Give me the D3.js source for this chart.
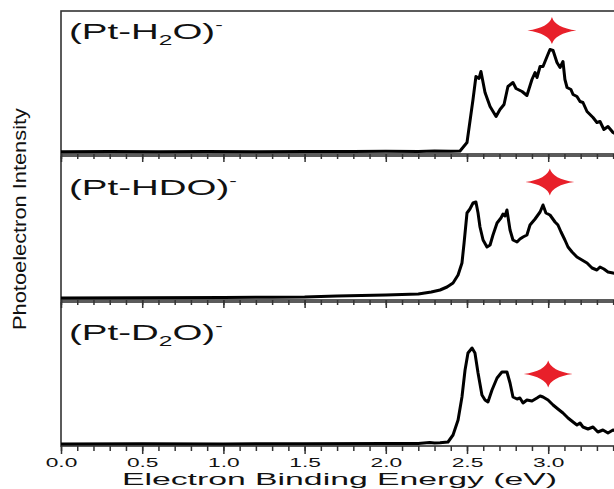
<!DOCTYPE html>
<html>
<head>
<meta charset="utf-8">
<script src="https://cdn.jsdelivr.net/npm/d3@7"></script>
<style>
  body { margin: 0; background: #fff; }
  svg { display: block; font-family: "Liberation Sans", Arial, sans-serif; }
</style>
</head>
<body>
<svg id="viz" width="614" height="489"></svg>
<script>
// spectra: [binding energy (eV), intensity]
let h2o = [
    [0.0, 0.002], [0.3, 0.004], [0.6, 0.003], [0.9, 0.005], [1.2, 0.003], [1.5, 0.006],
    [1.8, 0.004], [2.0, 0.007], [2.2, 0.006], [2.3, 0.009], [2.4, 0.007], [2.457, 0.01],
    [2.50, 0.095], [2.537, 0.525], [2.555, 0.755], [2.574, 0.735], [2.586, 0.805],
    [2.611, 0.595], [2.642, 0.455], [2.679, 0.355], [2.703, 0.425], [2.728, 0.475],
    [2.752, 0.655], [2.783, 0.695], [2.802, 0.635], [2.839, 0.605], [2.869, 0.565],
    [2.900, 0.725], [2.919, 0.795], [2.931, 0.745], [2.950, 0.855], [2.968, 0.855],
    [2.993, 0.955], [3.011, 1.025], [3.030, 1.015], [3.054, 0.895], [3.073, 0.845],
    [3.091, 0.905], [3.103, 0.725], [3.116, 0.645], [3.140, 0.625], [3.153, 0.575],
    [3.177, 0.555], [3.196, 0.505], [3.214, 0.495], [3.239, 0.405], [3.276, 0.345],
    [3.300, 0.295], [3.319, 0.305], [3.343, 0.225], [3.368, 0.255], [3.399, 0.195],
    [3.43, 0.17]
]

let hdo = [
    [0.0, 0.0], [0.5, 0.003], [1.0, 0.005], [1.3, 0.008], [1.5, 0.01], [1.7, 0.02],
    [1.85, 0.025], [2.0, 0.03], [2.1, 0.035], [2.2, 0.04], [2.28, 0.06], [2.334, 0.08],
    [2.377, 0.11], [2.414, 0.15], [2.445, 0.23], [2.469, 0.35], [2.482, 0.55],
    [2.500, 0.85], [2.518, 0.89], [2.537, 0.95], [2.555, 0.96], [2.568, 0.85],
    [2.580, 0.71], [2.599, 0.58], [2.623, 0.51], [2.642, 0.53], [2.660, 0.63],
    [2.685, 0.75], [2.709, 0.80], [2.722, 0.84], [2.734, 0.82], [2.746, 0.88],
    [2.765, 0.68], [2.783, 0.58], [2.808, 0.56], [2.826, 0.59], [2.845, 0.61],
    [2.869, 0.63], [2.888, 0.73], [2.919, 0.79], [2.950, 0.86], [2.968, 0.93],
    [2.986, 0.85], [3.011, 0.83], [3.042, 0.76], [3.060, 0.73], [3.079, 0.66],
    [3.103, 0.58], [3.122, 0.51], [3.147, 0.46], [3.177, 0.41], [3.208, 0.38],
    [3.239, 0.35], [3.270, 0.30], [3.300, 0.28], [3.319, 0.31], [3.343, 0.29],
    [3.368, 0.26], [3.399, 0.25], [3.43, 0.24]
]

let d2o = [
    [0.0, 0.0], [0.5, 0.002], [1.0, 0.001], [1.5, 0.003], [2.0, 0.004], [2.1, 0.004],
    [2.2, 0.006], [2.27, 0.014], [2.30, 0.01], [2.334, 0.012], [2.383, 0.02],
    [2.414, 0.09], [2.445, 0.24], [2.469, 0.47], [2.488, 0.74], [2.506, 0.91],
    [2.531, 0.96], [2.549, 0.91], [2.568, 0.71], [2.592, 0.49], [2.611, 0.44],
    [2.629, 0.42], [2.654, 0.54], [2.685, 0.66], [2.715, 0.72], [2.746, 0.72],
    [2.765, 0.61], [2.783, 0.47], [2.808, 0.45], [2.826, 0.46], [2.845, 0.41],
    [2.869, 0.44], [2.900, 0.43], [2.931, 0.46], [2.950, 0.48], [2.968, 0.47],
    [2.999, 0.44], [3.030, 0.39], [3.060, 0.35], [3.091, 0.31], [3.122, 0.26],
    [3.153, 0.22], [3.177, 0.19], [3.196, 0.21], [3.214, 0.17], [3.245, 0.15],
    [3.276, 0.17], [3.306, 0.12], [3.337, 0.14], [3.368, 0.11], [3.399, 0.14],
    [3.43, 0.12]
]

let series = [h2o, hdo, d2o]
let labels = [["(Pt-H", "2", "O)"], ["(Pt-HDO)", "", ""], ["(Pt-D", "2", "O)"]]
// red star marker: [energy, intensity]
let stars = [[3.023, 1.215], [3.01, 1.16], [3.0, 0.70]]
let majorTicks = [0.0, 0.5, 1.0, 1.5, 2.0, 2.5, 3.0]
let minorTicks = d3.range(0, 35).map(i => i / 10)

let left = 61
let panelTop = [11, 156, 302]
let panelBottom = [154, 300, 446]
let labelY = [39, 195, 340]
let stretch = 1.75

let viz = d3.select("#viz")

let x = d3.scaleLinear().domain([0, 3.5]).range([left, left + 3.5 * 162.4])

let line = d3.line()

series.forEach((data, i) => {
    let y = d3.scaleLinear().domain([0, 1]).range([panelBottom[i] - 2, panelBottom[i] - 102])
    let g = viz.append("g").attr("class", "panel")

    g.append("rect")
        .attr("x", left)
        .attr("y", panelTop[i])
        .attr("width", 614 - left + 20)
        .attr("height", panelBottom[i] - panelTop[i])
        .style("fill", "none")
        .style("stroke", "#333")
        .style("stroke-width", 1.6)

    // minor and major ticks hanging under each panel
    let minor = g.append("g")
        .attr("transform", `translate(0,${panelBottom[i]})`)
        .call(d3.axisBottom(x).tickValues(minorTicks).tickSize(5).tickFormat(""))
    let major = g.append("g")
        .attr("transform", `translate(0,${panelBottom[i]})`)
        .call(d3.axisBottom(x).tickValues(majorTicks).tickSize(8).tickFormat(d3.format(".1f")))
    minor.select(".domain").remove()
    major.select(".domain").remove()
    g.selectAll(".tick line").style("stroke", "#333").style("stroke-width", 1.5)

    if (i == 2) {
        major.selectAll(".tick text")
            .attr("y", 21)
            .attr("dy", 0)
            .attr("transform", `scale(${stretch},1)`)
            .style("font-size", "13px")
            .style("fill", "#111")
    } else {
        major.selectAll(".tick text").remove()
    }

    g.append("path")
        .datum(data)
        .attr("d", line.x(d => x(d[0])).y(d => y(d[1])))
        .style("fill", "none")
        .style("stroke", "#000")
        .style("stroke-width", 3)
        .style("stroke-linejoin", "round")

    let s = stars[i]
    g.append("path")
        .attr("transform", `translate(${x(s[0])},${y(s[1])})`)
        .attr("d", "M0,-13.5 Q3,-3 24.5,0 Q3,3 0,13.5 Q-3,3 -24.5,0 Q-3,-3 0,-13.5 Z")
        .style("fill", "#e8202a")

    let t = g.append("text")
        .attr("transform", `translate(69,${labelY[i]}) scale(${stretch},1)`)
        .style("font-size", "22px")
        .style("fill", "#111")
    t.append("tspan").text(labels[i][0])
    if (labels[i][1]) {
        t.append("tspan").attr("dy", 6).style("font-size", "14px").text(labels[i][1])
        t.append("tspan").attr("dy", -6).text(labels[i][2])
    }
    t.append("tspan").attr("dy", -10).style("font-size", "13px").text("-")
})

viz.append("text")
    .attr("x", 122)
    .attr("y", 485)
    .attr("textLength", 435)
    .attr("lengthAdjust", "spacingAndGlyphs")
    .style("font-size", "16px")
    .style("fill", "#111")
    .text("Electron Binding Energy (eV)")

viz.append("text")
    .attr("transform", "translate(26,330) rotate(-90)")
    .attr("textLength", 222)
    .attr("lengthAdjust", "spacingAndGlyphs")
    .style("font-size", "19px")
    .style("fill", "#111")
    .text("Photoelectron Intensity")
</script>
</body>
</html>
